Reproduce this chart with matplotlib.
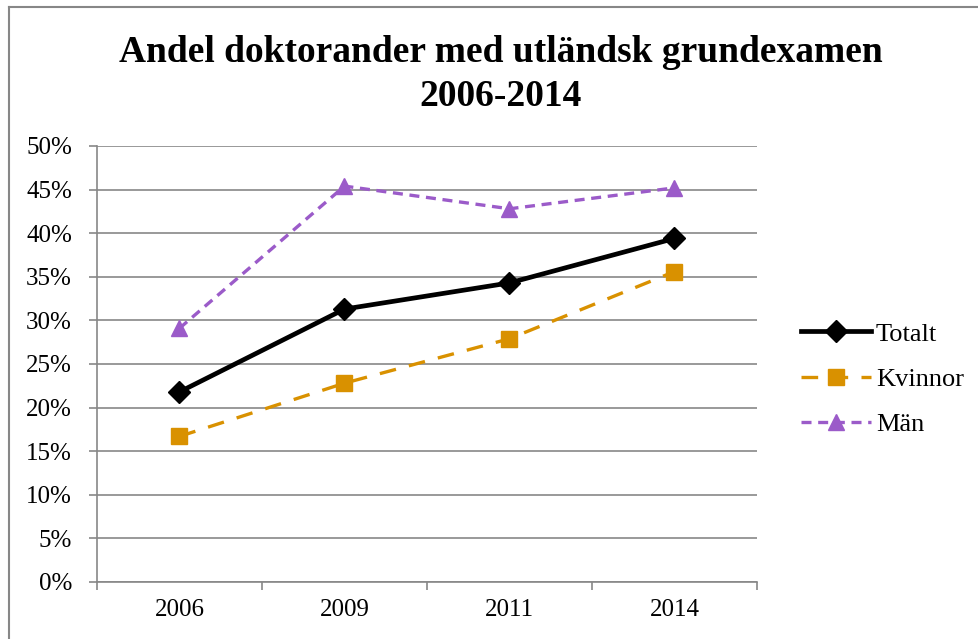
import matplotlib.pyplot as plt
from matplotlib.lines import Line2D
from matplotlib.ticker import FuncFormatter, FixedLocator

years = ["2006", "2009", "2011", "2014"]
totalt = [21.8, 31.3, 34.3, 39.4]
kvinnor = [16.7, 22.8, 27.9, 35.6]
man = [29.1, 45.4, 42.8, 45.2]

plt.rcParams['font.family'] = ['Liberation Serif', 'DejaVu Serif']

fig = plt.figure(figsize=(9.79, 6.39), dpi=100)
ax = fig.add_axes([97 / 979, 1 - 582 / 639, 660 / 979, 436 / 639])

grid_col = "#878787"
x = range(len(years))
ax.plot(x, totalt, color="black", lw=3.4, marker="D", ms=11, label="Totalt", zorder=4)
ax.plot(x, kvinnor, color="#D99100", lw=2.4, ls=(0, (5, 4)), marker="s", ms=11,
        label="Kvinnor", zorder=3)
ax.plot(x, man, color="#9B5BC9", lw=2.4, ls=(0, (3, 2)), marker="^", ms=12,
        label="Män", zorder=3)

ax.set_ylim(0, 50)
ax.set_xlim(-0.5, 3.5)
ax.set_yticks(range(0, 51, 5))
ax.yaxis.set_major_formatter(FuncFormatter(lambda v, p: f"{int(v)}%"))
ax.set_xticks(list(x))
ax.set_xticklabels(years)
ax.xaxis.set_minor_locator(FixedLocator([-0.5, 0.5, 1.5, 2.5, 3.5]))
ax.tick_params(axis="x", which="major", length=0, pad=12, labelsize=18)
ax.tick_params(axis="x", which="minor", length=6, color=grid_col, width=1.2)
ax.tick_params(axis="y", length=6, color=grid_col, width=1.2, labelsize=18, pad=12)
ax.grid(axis="y", color=grid_col, lw=1.2)
ax.set_axisbelow(True)
for s in ["top", "right"]:
    ax.spines[s].set_visible(False)
for s in ["left", "bottom"]:
    ax.spines[s].set_color(grid_col)
    ax.spines[s].set_linewidth(1.2)

fig.text(501 / 979, 1 - 52 / 639, "Andel doktorander med utländsk grundexamen",
         ha="center", va="center", fontsize=27, fontweight="bold")
fig.text(501 / 979, 1 - 96 / 639, "2006-2014",
         ha="center", va="center", fontsize=27, fontweight="bold")

fig.legend(loc="center left", bbox_to_anchor=(777 / 979, 1 - 379 / 639),
           frameon=False, fontsize=19, handlelength=2.65, labelspacing=0.82,
           handletextpad=0.2)

# outer chart frame (only top and left edges are inside the image)
fig.add_artist(Line2D([9 / 979, 9 / 979], [0, 1 - 7 / 639], color=grid_col, lw=1.5,
                      transform=fig.transFigure))
fig.add_artist(Line2D([9 / 979, 1], [1 - 7 / 639, 1 - 7 / 639], color=grid_col, lw=1.5,
                      transform=fig.transFigure))

fig.savefig("out.png", dpi=100)
